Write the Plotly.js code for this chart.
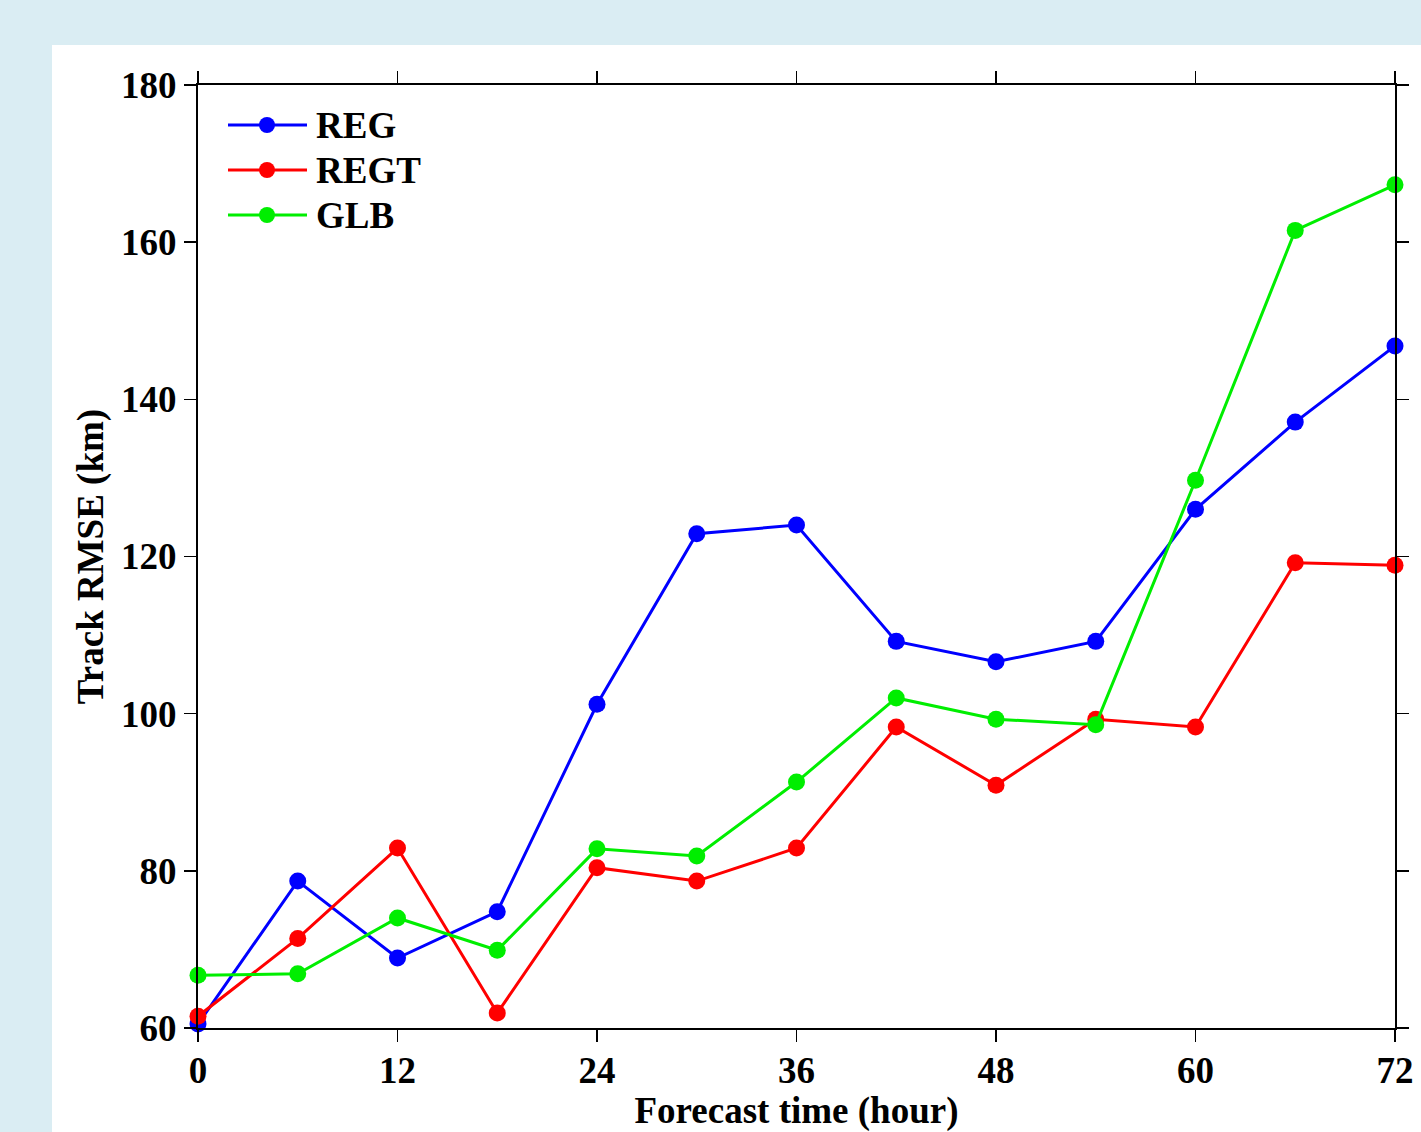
<!DOCTYPE html>
<html>
<head>
<meta charset="utf-8">
<script src="https://cdn.plot.ly/plotly-3.0.1.min.js"></script>
<style>
  html, body { margin: 0; padding: 0; background: #daedf3; width: 1421px; height: 1132px; overflow: hidden; }
  #chart { position: absolute; left: 52px; top: 45px; width: 1369px; height: 1087px; }
</style>
</head>
<body>
<div id="chart"></div>
<script>
const hours = [0, 6, 12, 18, 24, 30, 36, 42, 48, 54, 60, 66, 72];
const reg  = [60.5, 78.7, 68.9, 74.8, 101.2, 122.9, 124.0, 109.2, 106.6, 109.2, 126.0, 137.1, 146.8];
const regt = [61.5, 71.4, 82.9, 61.9, 80.4, 78.7, 82.9, 98.3, 90.9, 99.3, 98.3, 119.2, 118.9];
const glb  = [66.7, 66.9, 74.0, 69.9, 82.8, 81.9, 91.3, 102.0, 99.3, 98.6, 129.7, 161.5, 167.3];
const seriesNames = ['REG', 'REGT', 'GLB'];
const seriesColors = ['#0000ff', '#ff0000', '#00ee00'];
const xTicks = [0, 12, 24, 36, 48, 60, 72];
const yTicks = [60, 80, 100, 120, 140, 160, 180];

const font = {family: 'Liberation Serif, Times New Roman, serif', size: 37, color: '#000', weight: 700};
const titleFont = {family: 'Liberation Serif, Times New Roman, serif', size: 37, color: '#000', weight: 700};
const allSeries = [reg, regt, glb];

const traces = allSeries.map((vals, i) => ({
  x: hours, y: vals, type: 'scatter', mode: 'lines+markers', name: seriesNames[i],
  line: {color: seriesColors[i], width: 3},
  marker: {color: seriesColors[i], size: 17},
  cliponaxis: false, showlegend: false
}));

// custom legend (layout decoration)
const shapes = [], annotations = [];
const pw = 1197, ph = 943;
seriesNames.forEach((n, i) => {
  const yPix = 125 + i * 45;
  const py = (1028 - yPix) / ph;
  shapes.push({type: 'line', xref: 'paper', yref: 'paper', x0: 30 / pw, x1: 109 / pw, y0: py, y1: py,
    line: {color: seriesColors[i], width: 3}});
  shapes.push({type: 'circle', xref: 'paper', yref: 'paper', x0: (69 - 8) / pw, x1: (69 + 8) / pw,
    y0: py - 8 / ph, y1: py + 8 / ph, fillcolor: seriesColors[i], line: {width: 0}});
  annotations.push({xref: 'paper', yref: 'paper', x: 116 / pw, y: py, xanchor: 'left', yanchor: 'middle',
    text: n, showarrow: false, font: font});
});

const layout = {
  width: 1369, height: 1087,
  margin: {l: 146, r: 26, t: 40, b: 104},
  paper_bgcolor: '#ffffff', plot_bgcolor: '#ffffff',
  font: font,
  showlegend: false,
  xaxis: {
    range: [0, 72], tickvals: xTicks, ticktext: xTicks.map(String),
    showgrid: false, zeroline: false, showline: true, linecolor: '#000', linewidth: 2,
    mirror: 'ticks', ticks: 'outside', ticklen: 12, tickwidth: 1.5, tickcolor: '#000',
    tickfont: font, ticklabelstandoff: -3,
    title: {text: 'Forecast time (hour)', font: titleFont, standoff: 0}
  },
  yaxis: {
    range: [60, 180], tickvals: yTicks, ticktext: yTicks.map(String),
    showgrid: false, zeroline: false, showline: true, linecolor: '#000', linewidth: 2,
    mirror: 'ticks', ticks: 'outside', ticklen: 12, tickwidth: 1.5, tickcolor: '#000',
    tickfont: font, ticklabelstandoff: 0,
    title: {text: 'Track RMSE (km)', font: titleFont, standoff: 6}
  },
  shapes: shapes,
  annotations: annotations
};

Plotly.newPlot('chart', traces, layout, {displayModeBar: false, staticPlot: true});
</script>
</body>
</html>
